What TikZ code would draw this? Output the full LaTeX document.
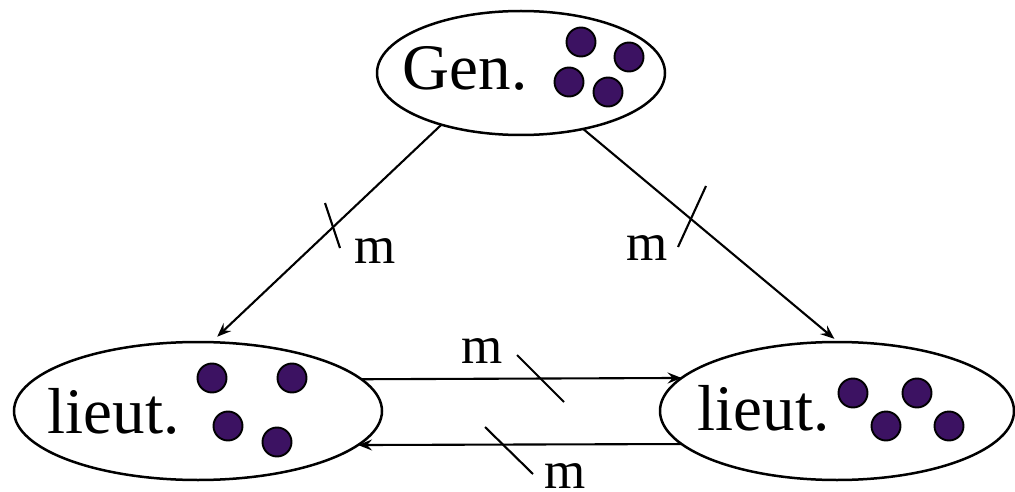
\documentclass[tikz,border=0pt]{standalone}
\usepackage{fontspec}
\setmainfont{Liberation Serif}
\usetikzlibrary{shapes.geometric,arrows.meta}
\definecolor{tokenfill}{RGB}{60,18,98}
\begin{document}
\begin{tikzpicture}[x=1pt,y=-1pt,
  party/.style={draw,ellipse,line width=2.5pt,inner sep=0pt,outer sep=0pt},
  tokendot/.style={circle,draw,line width=1.9pt,fill=tokenfill,minimum size=29pt,inner sep=0pt},
  partyname/.style={anchor=base,inner sep=0pt,font=\fontsize{65}{70}\selectfont},
  msgtext/.style={anchor=base,inner sep=0pt,font=\fontsize{53}{60}\selectfont},
  msgarrow/.style={line width=2.1pt,-{Stealth[length=14pt,width=11pt,inset=5pt]}},
  tickmark/.style={line width=2.1pt}]
\useasboundingbox (0,0) rectangle (1015,492);

% the three parties
\node[party,minimum width=288pt,minimum height=124pt] (gen) at (521,73) {};
\node[party,minimum width=368pt,minimum height=138pt] (lt1) at (198,411) {};
\node[party,minimum width=354pt,minimum height=138pt] (lt2) at (837,411) {};

\node[partyname] (genname) at (465,90) {Gen.};
\node[partyname] (lt1name) at (113.5,433) {lieut.};
\node[partyname] (lt2name) at (763.5,430) {lieut.};

% tokens held by each party
\node[tokendot] (g1) at (581,42) {};
\node[tokendot] (g2) at (629,57) {};
\node[tokendot] (g3) at (569,82) {};
\node[tokendot] (g4) at (608,92) {};

\node[tokendot] (a1) at (212,378) {};
\node[tokendot] (a2) at (292,378) {};
\node[tokendot] (a3) at (228,426) {};
\node[tokendot] (a4) at (277,442) {};

\node[tokendot] (b1) at (853,393) {};
\node[tokendot] (b2) at (917,393) {};
\node[tokendot] (b3) at (886,426) {};
\node[tokendot] (b4) at (949,426) {};

% messages
\draw[msgarrow,shorten >=8pt] (gen.213) -- (lt1.79);
\draw[msgarrow,shorten >=5pt] (gen.-42) -- (lt2.89);
\draw[msgarrow] (lt1.11.5) -- (lt2.168);
\draw[msgarrow] (lt2.192.4) -- (lt1.-12);

% ticks across the message lines
\draw[tickmark] (325,203) -- (340,248);
\draw[tickmark] (706,186) -- (678,247);
\draw[tickmark] (517,355) -- (564,402);
\draw[tickmark] (485,427) -- (533,474);

\node[msgtext] (m1) at (375,263) {m};
\node[msgtext] (m2) at (647,260) {m};
\node[msgtext] (m3) at (482,363) {m};
\node[msgtext] (m4) at (565,488) {m};
\end{tikzpicture}
\end{document}
